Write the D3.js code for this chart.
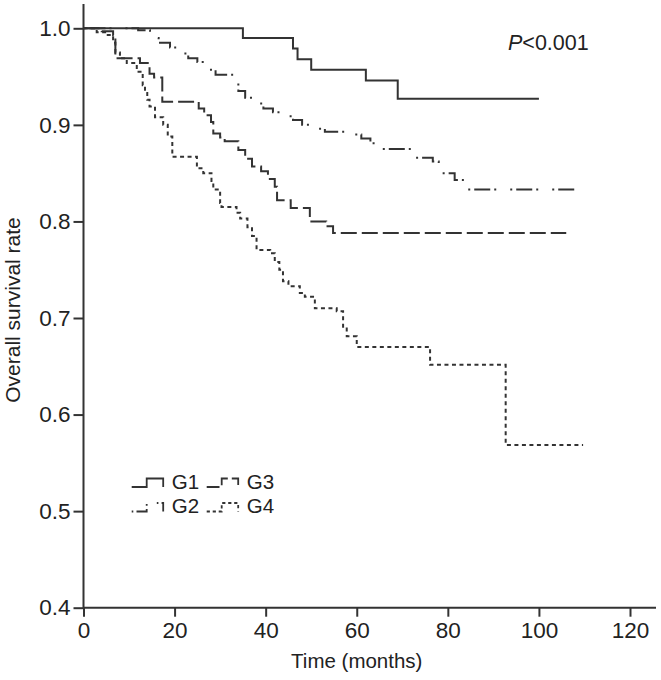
<!DOCTYPE html>
<html>
<head>
<meta charset="utf-8">
<script src="https://cdn.jsdelivr.net/npm/d3@7/dist/d3.min.js"></script>
<style>
  html, body { margin: 0; padding: 0; background: #fff; }
  svg { display: block; font-family: "Liberation Sans", Arial, sans-serif; }
</style>
</head>
<body>
<svg id="chart" width="661" height="680"></svg>
<script>
// ---- Data ----
const seriesNames = ["G1", "G2", "G3", "G4"];

const g1Time = [0, 35, 46, 47, 50, 62, 69, 100];
const g1Surv = [1, 0.990, 0.979, 0.968, 0.957, 0.946, 0.927, 0.927];

const g2Time = [0, 12, 14.6, 16.5, 19, 20.7, 23, 25, 26.7, 29, 32.9, 34, 35.5, 37.7, 39.5, 41.6, 44, 46, 48, 50.8, 53, 59, 61, 63, 65.5, 72.8, 76.7, 78, 81.5, 83.3, 108.3];
const g2Surv = [1, 0.998, 0.99, 0.985, 0.98, 0.974, 0.969, 0.965, 0.957, 0.952, 0.943, 0.935, 0.928, 0.922, 0.917, 0.913, 0.909, 0.905, 0.90, 0.896, 0.893, 0.89, 0.886, 0.881, 0.875, 0.866, 0.862, 0.85, 0.843, 0.833, 0.833];

const g3Time = [0, 4, 6.5, 7, 12.4, 14.5, 15.5, 17.3, 25.3, 26.5, 28, 28.5, 30, 31, 34, 35.5, 37, 39, 40.5, 42, 42.5, 45.5, 49.7, 53.3, 54.8, 106];
const g3Surv = [1, 0.997, 0.993, 0.969, 0.964, 0.953, 0.949, 0.924, 0.917, 0.91, 0.903, 0.891, 0.887, 0.883, 0.874, 0.865, 0.857, 0.852, 0.844, 0.836, 0.822, 0.814, 0.80, 0.795, 0.788, 0.788];

const g4Time = [0, 2.9, 5, 6.5, 7, 8, 9.5, 11.7, 13, 13.5, 14, 14.5, 15.7, 17.5, 18.5, 19.5, 24.9, 26.3, 28.1, 28.5, 30, 30.3, 33.6, 34.4, 36, 37, 38, 41, 42, 43, 43.8, 45, 47.5, 48.6, 50.8, 55.6, 57, 57.8, 60, 76.1, 92.7, 109.7];
const g4Surv = [1, 0.996, 0.993, 0.985, 0.975, 0.969, 0.964, 0.955, 0.941, 0.933, 0.926, 0.919, 0.908, 0.90, 0.888, 0.867, 0.855, 0.85, 0.842, 0.833, 0.819, 0.815, 0.809, 0.803, 0.794, 0.785, 0.7705, 0.767, 0.758, 0.75, 0.738, 0.733, 0.726, 0.722, 0.71, 0.707, 0.691, 0.681, 0.67, 0.6515, 0.5686, 0.5686];

const xTicks = [0, 20, 40, 60, 80, 100, 120];
const yTicks = [0.4, 0.5, 0.6, 0.7, 0.8, 0.9, 1.0];
const xLabel = "Time (months)";
const yLabel = "Overall survival rate";

// ---- Layout ----
const svg = d3.select("#chart");
const ink = "#333";
const x = d3.scaleLinear().domain([0, 120]).range([83.5, 630]);
const y = d3.scaleLinear().domain([0.4, 1.0]).range([607.7, 28.3]);

const series = [
  { name: "G1", t: g1Time, s: g1Surv, dash: null },
  { name: "G2", t: g2Time, s: g2Surv, dash: "2,4,16,4,2,14" },
  { name: "G3", t: g3Time, s: g3Surv, dash: "16,5" },
  { name: "G4", t: g4Time, s: g4Surv, dash: "4,3.5" }
];

// Axes
const xAxis = d3.axisBottom(x).tickValues(xTicks).tickSize(9).tickPadding(5).tickFormat(d3.format("d"));
const yAxis = d3.axisLeft(y).tickValues(yTicks).tickSize(10).tickPadding(3).tickFormat(d3.format(".1f"));

const gx = svg.append("g").attr("transform", `translate(0,${y(0.4)})`).call(xAxis);
const gy = svg.append("g").attr("transform", `translate(${x(0)},0)`).call(yAxis);
[gx, gy].forEach(g => {
  g.select(".domain").remove();
  g.selectAll(".tick line").attr("stroke", ink).attr("stroke-width", 2);
  g.selectAll(".tick text").attr("fill", "#222").style("font-size", "22.5px")
    .style("font-family", '"Liberation Sans", Arial, sans-serif');
});
// axis lines (extend past the last tick as in the reference)
svg.append("line").attr("x1", x(0)).attr("x2", 656).attr("y1", y(0.4)).attr("y2", y(0.4))
  .attr("stroke", ink).attr("stroke-width", 2);
svg.append("line").attr("x1", x(0)).attr("x2", x(0)).attr("y1", 4).attr("y2", y(0.4) + 1)
  .attr("stroke", ink).attr("stroke-width", 2);

// Axis titles
svg.append("text").attr("x", (x(0) + x(120)) / 2).attr("y", 668).attr("text-anchor", "middle")
  .style("font-size", "20.5px").attr("fill", "#222").text(xLabel);
svg.append("text").attr("transform", `translate(19.5,${310}) rotate(-90)`).attr("text-anchor", "middle")
  .style("font-size", "21px").attr("fill", "#222").text(yLabel);

// P value
const pt = svg.append("text").attr("x", 508).attr("y", 50).style("font-size", "21.5px").attr("fill", "#222");
pt.append("tspan").style("font-style", "italic").text("P");
pt.append("tspan").text("<0.001");

// Curves
const line = d3.line().x(d => x(d[0])).y(d => y(d[1])).curve(d3.curveStepAfter);
series.forEach(sr => {
  const pts = sr.t.map((t, i) => [t, sr.s[i]]);
  svg.append("path").datum(pts).attr("d", line).attr("fill", "none")
    .attr("stroke", ink).attr("stroke-width", 2)
    .attr("stroke-dasharray", sr.dash);
});

// Legend
const legendPos = [
  { x: 131.7, y: 487 }, { x: 131.7, y: 511.5 },
  { x: 206.7, y: 487 }, { x: 206.7, y: 511.5 }
];
series.forEach((sr, i) => {
  const p = legendPos[i];
  const g = svg.append("g").attr("transform", `translate(${p.x},${p.y})`);
  g.append("path").attr("d", "M0,0 H15 V-8.5 H31.5 V0")
    .attr("fill", "none").attr("stroke", ink).attr("stroke-width", 1.8)
    .attr("stroke-dasharray", sr.dash ? sr.dash.split(",").map(v => +v * 0.8).join(",") : null);
  g.append("text").attr("x", 40).attr("y", 1.5).style("font-size", "20.5px").attr("fill", "#222").text(sr.name);
});
</script>
</body>
</html>
